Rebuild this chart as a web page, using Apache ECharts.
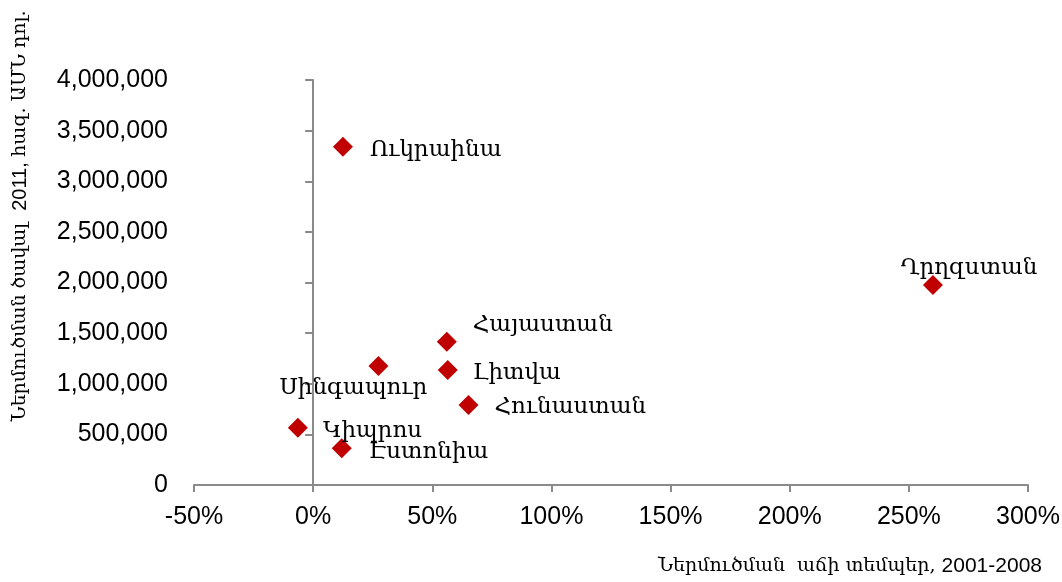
<!DOCTYPE html>
<html>
<head>
<meta charset="utf-8">
<script src="https://cdn.jsdelivr.net/npm/echarts@6/dist/echarts.min.js"></script>
<style>
html,body{margin:0;padding:0;background:#fff;}
#chart{width:1062px;height:582px;}
</style>
</head>
<body>
<div id="chart"></div>
<script>
// ---- data ----
const countries = ["Ուկրաինա", "Ղրղզստան", "Հայաստան", "Սինգապուր", "Լիտվա", "Հունաստան", "Կիպրոս", "Էստոնիա"];
const growthPct = [12.5, 260.1, 56.1, 27.4, 56.5, 65.2, -6.4, 12.0];
const imports2011 = [3341000, 1975000, 1415000, 1175000, 1136000, 790000, 566000, 362000];
const xTicks = [-50, 0, 50, 100, 150, 200, 250, 300];
const yTicks = [0, 500000, 1000000, 1500000, 2000000, 2500000, 3000000, 3500000, 4000000];
const yTitleParts = ["Ներմուծման ծավալ  ", "2011, ", "հազ. ԱՄՆ դոլ."];
const xTitleParts = ["Ներմուծման  աճի տեմպեր, ", "2001-2008"];

// ---- label placement (styling only) ----
const labelPlacement = {
  "Ուկրաինա":  {position: "right", distance: 17, offset: [0, 3]},
  "Ղրղզստան":  {position: "inside", offset: [36, -17]},
  "Հայաստան":  {position: "right", distance: 16, offset: [0, -17]},
  "Սինգապուր": {position: "inside", offset: [-25, 22]},
  "Լիտվա":     {position: "right", distance: 15, offset: [0, 3]},
  "Հունաստան": {position: "right", distance: 16, offset: [0, 2]},
  "Կիպրոս":    {position: "right", distance: 15, offset: [0, 3]},
  "Էստոնիա":   {position: "right", distance: 17, offset: [0, 4]}
};

const axisGray = "#8a8a8a";
const serif = "'DejaVu Serif', serif";
const sans = "'Liberation Sans', Arial, sans-serif";

const points = countries.map((name, i) => {
  const p = labelPlacement[name];
  return {
    name: name,
    value: [growthPct[i], imports2011[i]],
    label: Object.assign({show: true, formatter: name}, p)
  };
});

const chart = echarts.init(document.getElementById("chart"), null, {renderer: "canvas"});
chart.setOption({
  animation: false,
  grid: {left: 194, right: 34, top: 80, bottom: 97, containLabel: false, outerBoundsMode: "none"},
  xAxis: {
    type: "value",
    min: xTicks[0], max: xTicks[xTicks.length - 1], interval: xTicks[1] - xTicks[0],
    splitLine: {show: false},
    axisLine: {show: true, onZero: true, lineStyle: {color: axisGray, width: 2}},
    axisTick: {show: true, length: 7, lineStyle: {color: axisGray, width: 2}},
    axisLabel: {formatter: "{value}%", fontFamily: sans, fontSize: 25, color: "#000", margin: 20}
  },
  yAxis: {
    type: "value",
    min: yTicks[0], max: yTicks[yTicks.length - 1], interval: yTicks[1] - yTicks[0],
    splitLine: {show: false},
    axisLine: {show: true, onZero: true, lineStyle: {color: axisGray, width: 2}},
    axisTick: {show: true, length: 8, lineStyle: {color: axisGray, width: 2}},
    axisLabel: {
      formatter: v => v.toLocaleString("en-US"),
      fontFamily: sans, fontSize: 25, color: "#000", margin: 26
    }
  },
  series: [{
    type: "scatter",
    symbol: "diamond",
    symbolSize: 20,
    itemStyle: {color: "#C00000", opacity: 1},
    label: {fontFamily: serif, fontSize: 23, color: "#000"},
    data: points
  }],
  graphic: [
    {
      type: "text",
      x: 20, y: 216,
      rotation: Math.PI / 2,
      style: {
        text: "{a|" + yTitleParts[0] + "}{b|" + yTitleParts[1] + "}{a|" + yTitleParts[2] + "}",
        align: "center", verticalAlign: "middle",
        rich: {
          a: {fontFamily: serif, fontSize: 19, fill: "#000"},
          b: {fontFamily: sans, fontSize: 20, fill: "#000"}
        }
      }
    },
    {
      type: "text",
      x: 1042, y: 566,
      style: {
        text: "{a|" + xTitleParts[0] + "}{b|" + xTitleParts[1] + "}",
        align: "right", verticalAlign: "middle",
        rich: {
          a: {fontFamily: serif, fontSize: 19, fill: "#000"},
          b: {fontFamily: sans, fontSize: 21, fill: "#000"}
        }
      }
    }
  ]
});
</script>
</body>
</html>
